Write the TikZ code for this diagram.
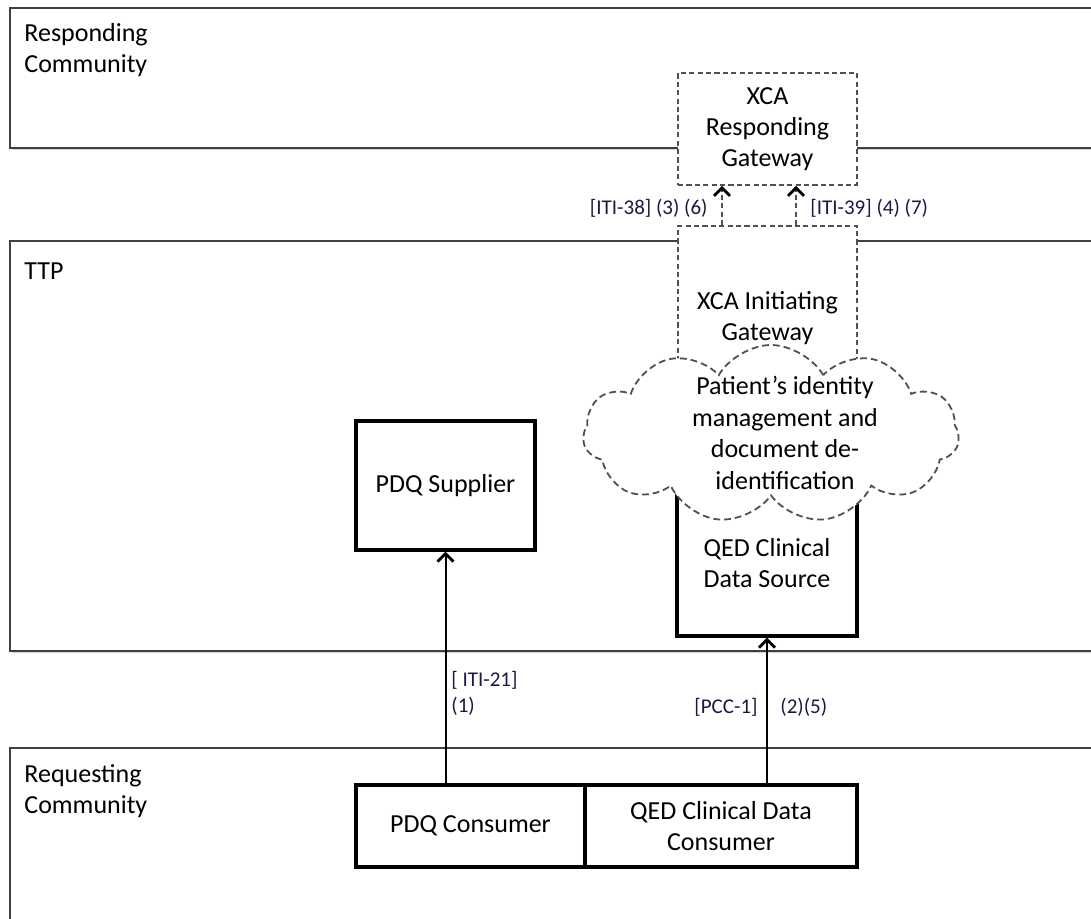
\documentclass[tikz,border=0pt]{standalone}
\usepackage{fontspec}
\setmainfont{Carlito}
\usetikzlibrary{shapes.symbols,calc,arrows.meta,shadows}
\definecolor{linegray}{HTML}{404040}
\definecolor{dashgray}{HTML}{505050}
\definecolor{lblink}{RGB}{25,25,70}

\begin{document}
\begin{tikzpicture}[x=0.5pt,y=-0.5pt,
  every node/.style={font=\fontsize{13}{15.5}\selectfont, text=black},
  community/.style={draw=linegray, line width=1pt, fill=white,
    drop shadow={shadow xshift=0.9pt, shadow yshift=-0.9pt, opacity=0.35, fill=gray}},
  commlabel/.style={anchor=north west, inner sep=0pt, align=left},
  actor/.style={draw=black, line width=1.6pt, fill=white, align=center, inner sep=0pt},
  gateway/.style={draw=dashgray, line width=0.9pt, dash pattern=on 2.6pt off 1.6pt,
    fill=white, align=center, inner sep=0pt},
  lbl/.style={font=\fontsize{10.5}{13}\selectfont, text=lblink, inner sep=0pt},
  arr/.style={draw=black, line width=1pt, -{Straight Barb[length=4pt,width=8pt,line width=1.4pt]}},
  darr/.style={draw=dashgray, line width=1pt, dash pattern=on 2.6pt off 1.6pt,
    -{Straight Barb[length=4pt,width=8pt,line width=1.4pt,color=black]}},
]
\useasboundingbox (0,0) rectangle (1091,918);
\clip (0,0) rectangle (1091,918);

% community bands, running off the right and bottom edges
\path[community] (10,8) rectangle (1120,148);
\path[community] (10,241) rectangle (1120,651);
\path[community] (10,748) rectangle (1120,960);

\node[commlabel] (resplbl) at (24,23) {Responding\\Community};
\node[commlabel] (ttplbl) at (24,262) {TTP};
\node[commlabel] (reqlbl) at (24,764) {Requesting\\Community};

% gateways
\node[gateway, minimum width=89.5pt, minimum height=56pt] (xcar) at (767.5,129) {XCA\\Responding\\Gateway};
\node[gateway, minimum width=89.5pt, minimum height=92pt] (xcai) at (767.5,318) {XCA Initiating\\Gateway};

% actors
\node[actor, minimum width=89.5pt, minimum height=64.5pt] (pdqs) at (445.5,485.5) {PDQ Supplier};
\node[actor, minimum width=90pt, minimum height=73pt, text depth=-4pt] (qeds) at (767,563) {QED Clinical\\Data Source};
\node[actor, minimum width=114.5pt, minimum height=41pt] (pdqc) at (470.5,826) {PDQ Consumer};
\node[actor, minimum width=136pt, minimum height=41pt] (qedc) at (721,826) {QED Clinical Data\\Consumer};

% identity management cloud over the gateway and the data source
\node[cloud, draw=dashgray, line width=0.9pt, dash pattern=on 3.4pt off 2pt, fill=white,
  cloud puffs=11, cloud puff arc=120, aspect=2.1,
  minimum width=188pt, minimum height=89pt, inner sep=0pt] (cloud) at (771,434) {};
\node[align=center, inner sep=0pt, font=\fontsize{13}{15.8}\selectfont] (cloudtxt) at (785,433)
  {Patient’s identity\\management and\\document de-\\identification};

% transactions
\draw[arr] (pdqc.north -| pdqs.south) -- (pdqs.south);
\draw[arr] (qedc.north -| qeds.south) -- (qeds.south);
\coordinate (g38) at ($(xcai.north)+(-45.5,0)$);
\coordinate (g39) at ($(xcai.north)+(28.5,0)$);
\draw[darr] (g38) -- (g38 |- xcar.south);
\draw[darr] (g39) -- (g39 |- xcar.south);

\node[lbl, anchor=base east] (l38) at (708,214) {[ITI-38] (3) (6)};
\node[lbl, anchor=base west] (l39) at (810,214) {[ITI-39] (4) (7)};
\node[lbl, anchor=north west, align=left] (l21) at (451,671) {[ ITI-21]\\(1)};
\node[lbl, anchor=base east] (lpcc) at (758,713) {[PCC-1]};
\node[lbl, anchor=base west] (l25) at (780,713) {(2)(5)};
\end{tikzpicture}
\end{document}
